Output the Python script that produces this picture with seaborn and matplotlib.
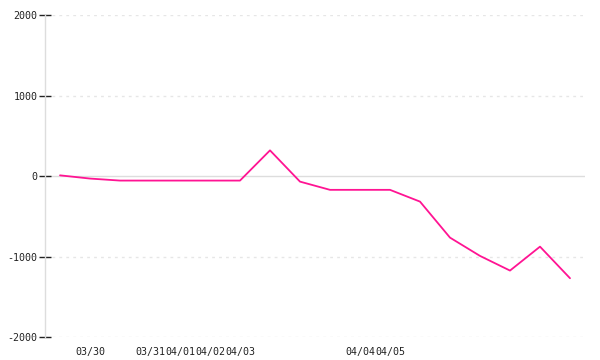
import matplotlib
matplotlib.use("Agg")
import matplotlib.pyplot as plt
import seaborn as sns
import numpy as np
import pandas as pd

# data
point_index = list(range(18))
values = [10, -30, -55, -55, -55, -55, -55, 320, -68, -170, -170, -170, -316,
          -763, -990, -1172, -875, -1267]
tick_positions = [1, 3, 4, 5, 6, 10, 11]
tick_labels = ["03/30", "03/31", "04/01", "04/02", "04/03", "04/04", "04/05"]
y_ticks = [-2000, -1000, 0, 1000, 2000]
y_grid = [-2000, -1000, 1000, 2000]

sns.set_theme(style="white")
plt.rcParams['font.family'] = ['DejaVu Sans Mono', 'DejaVu Sans']
plt.rcParams['axes.unicode_minus'] = False

fig = plt.figure(figsize=(6, 3.6), dpi=100)
ax = fig.add_axes([0.075, 0.0631, 0.90, 0.8952])

df = pd.DataFrame({"x": point_index, "y": values})

for g in y_grid:
    ax.axhline(g, color="#e6e6e6", linewidth=1.0, linestyle=(0, (2, 3)), zorder=0)
ax.axhline(0, color="#dddddd", linewidth=1.0, zorder=0)

sns.lineplot(data=df, x="x", y="y", color="#ff1493", linewidth=1.3, ax=ax)

ax.set_xlim(-0.5, 17.5)
ax.set_ylim(-2000, 2000)
ax.set_yticks(y_ticks)
ax.set_yticklabels([str(v) for v in y_ticks])
ax.set_xticks(tick_positions)
ax.set_xticklabels(tick_labels)
ax.set_xlabel("")
ax.set_ylabel("")

for s in ["top", "right", "bottom"]:
    ax.spines[s].set_visible(False)
ax.spines["left"].set_color("#dddddd")
ax.spines["left"].set_linewidth(1.0)

ax.tick_params(axis="y", left=True, direction="inout", length=9, width=1, color="#222222",
               labelsize=7.2, labelcolor="#222222", pad=1)
ax.tick_params(axis="x", bottom=False, length=0, labelsize=7.2, labelcolor="#222222", pad=7)
ax.grid(False)

fig.savefig("out.png", dpi=100)
